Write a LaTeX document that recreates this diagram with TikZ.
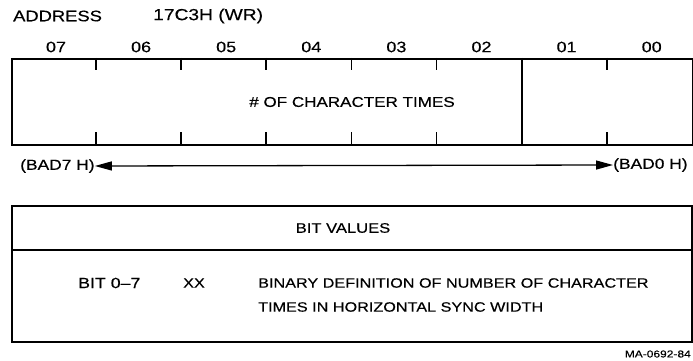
\documentclass[tikz,border=0pt]{standalone}
\usepackage{fontspec}
\setmainfont[FakeStretch=1.2,FakeBold=0.4]{Liberation Sans}
\usetikzlibrary{arrows.meta}
\newcommand{\fs}[1]{\fontsize{#1}{#1}\selectfont}
\begin{document}
\begin{tikzpicture}[x=1pt,y=-1pt,
  lbl/.style={inner sep=0pt,font=\fs{14.5}},
  box/.style={draw,line width=2.3pt},
  tick/.style={line width=1.8pt},
  arr/.style={line width=1.3pt,{Triangle[length=17pt,width=9pt]}-{Triangle[length=17pt,width=9pt]}}]
\useasboundingbox (0,0) rectangle (693,361);
% header
\node[lbl,anchor=west,font=\fs{15.3}] (addr) at (13,16) {ADDRESS};
\node[lbl,anchor=west,font=\fs{16}] (val) at (153,16) {17C3H (WR)};
% register box
\node[box,minimum width=681pt,minimum height=86pt,inner sep=0pt,anchor=north west] (reg) at (11,58) {};
\foreach \i/\lab in {0/07,1/06,2/05,3/04,4/03,5/02,6/01,7/00}{
  \node[lbl,font=\fs{15}] (b\lab) at ({11+85.1*\i+45},47) {\lab};
}
\foreach \i in {1,2,3,4,5,7}{
  \coordinate (tt\i) at ({11+85.1*\i},58);
  \coordinate (tb\i) at ({11+85.1*\i},144);
  \draw[tick] (tt\i) -- ++(0,12);
  \draw[tick] (tb\i) -- ++(0,-12);
}
\coordinate (dt) at ({11+85.1*6},58);
\coordinate (db) at ({11+85.1*6},144);
\draw[tick] (dt) -- (db);
\node[lbl,font=\fs{14.2}] (field) at (352,102) {\# OF CHARACTER TIMES};
% arrow
\node[lbl,anchor=west] (bad7) at (20,166) {(BAD7 H)};
\node[lbl,anchor=west] (bad0) at (613,165) {(BAD0 H)};
\draw[arr] (bad7.east) -- (bad0.west);
% bit values table
\node[box,minimum width=680pt,minimum height=136pt,inner sep=0pt,anchor=north west] (tbl) at (11,205) {};
\coordinate (sl) at (11,250);
\coordinate (sr) at (691,250);
\draw[line width=2pt] (sl) -- (sr);
\node[lbl,font=\fs{13.8}] (bv) at (343,228) {BIT VALUES};
\node[lbl,anchor=west,font=\fs{14.8}] (bit) at (78,283) {BIT 0--7};
\node[lbl,anchor=west,font=\fs{13.5}] (xx) at (183,283) {XX};
\node[lbl,anchor=west,font=\fs{13.5}] (desc1) at (258,283) {BINARY DEFINITION OF NUMBER OF CHARACTER};
\node[lbl,anchor=west,font=\fs{13.5}] (desc2) at (258,307) {TIMES IN HORIZONTAL SYNC WIDTH};
\node[inner sep=0pt,anchor=east,font=\fs{10}] (ma) at (691,354) {MA-0692-84};
\end{tikzpicture}
\end{document}
